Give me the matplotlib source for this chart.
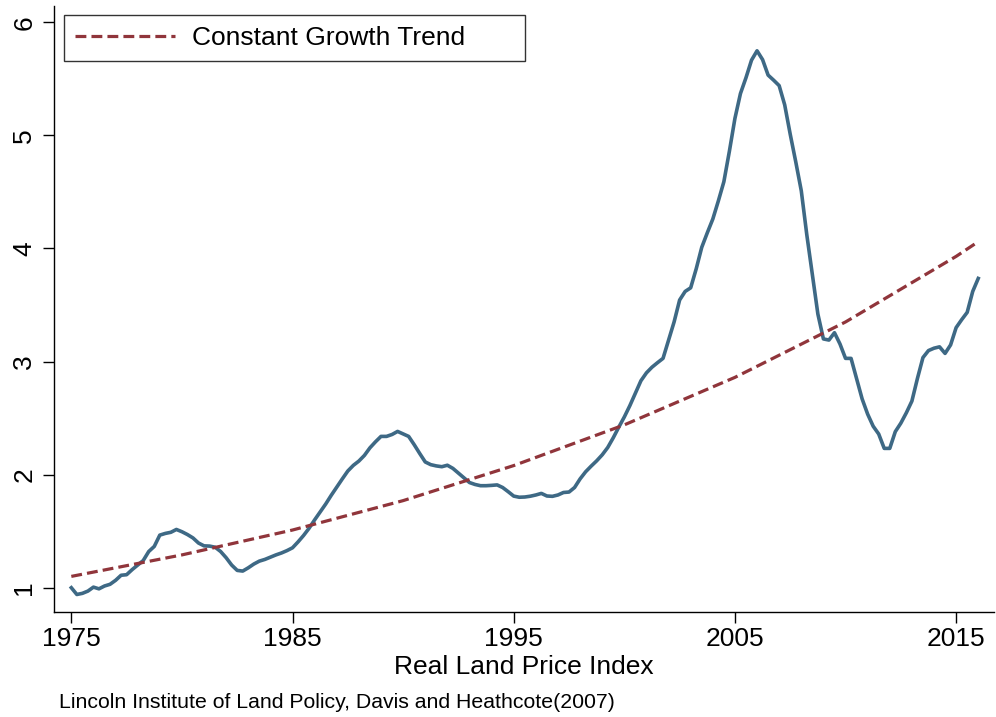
import numpy as np
import matplotlib
matplotlib.use("Agg")
import matplotlib.pyplot as plt

plt.rcParams['font.family'] = ['Liberation Sans', 'DejaVu Sans']

# Quarterly real land price index, 1975Q1 .. 2016Q1
start_year = 1975
land_index = [
    1.000, 0.940, 0.950, 0.970,   # 1975
    1.005, 0.990, 1.015, 1.030,   # 1976
    1.065, 1.110, 1.115, 1.160,   # 1977
    1.200, 1.240, 1.320, 1.365,   # 1978
    1.465, 1.480, 1.490, 1.515,   # 1979
    1.495, 1.470, 1.440, 1.395,   # 1980
    1.370, 1.368, 1.358, 1.320,   # 1981
    1.265, 1.200, 1.153, 1.147,   # 1982
    1.176, 1.209, 1.235, 1.250,   # 1983
    1.270, 1.290, 1.307, 1.328,   # 1984
    1.353, 1.405, 1.462, 1.526,   # 1985
    1.600, 1.670, 1.740, 1.817,   # 1986
    1.890, 1.962, 2.032, 2.082,   # 1987
    2.120, 2.170, 2.237, 2.290,   # 1988
    2.338, 2.338, 2.355, 2.382,   # 1989
    2.360, 2.338, 2.265, 2.187,   # 1990
    2.112, 2.088, 2.077, 2.070,   # 1991
    2.083, 2.055, 2.013, 1.970,   # 1992
    1.930, 1.913, 1.902, 1.902,   # 1993
    1.905, 1.909, 1.886, 1.849,   # 1994
    1.810, 1.800, 1.802, 1.809,   # 1995
    1.820, 1.834, 1.811, 1.808,   # 1996
    1.820, 1.842, 1.846, 1.886,   # 1997
    1.962, 2.025, 2.075, 2.122,   # 1998
    2.175, 2.240, 2.326, 2.420,   # 1999
    2.510, 2.610, 2.720, 2.830,   # 2000
    2.900, 2.950, 2.990, 3.028,   # 2001
    3.190, 3.350, 3.544, 3.620,   # 2002
    3.652, 3.820, 4.010, 4.138,   # 2003
    4.260, 4.420, 4.590, 4.860,   # 2004
    5.150, 5.370, 5.510, 5.665,   # 2005
    5.748, 5.670, 5.533, 5.488,   # 2006
    5.440, 5.270, 5.010, 4.766,   # 2007
    4.510, 4.120, 3.770, 3.420,   # 2008
    3.200, 3.190, 3.255, 3.155,   # 2009
    3.028, 3.028, 2.850, 2.670,   # 2010
    2.535, 2.428, 2.359, 2.232,   # 2011
    2.232, 2.380, 2.455, 2.547,   # 2012
    2.650, 2.850, 3.035, 3.097,   # 2013
    3.118, 3.130, 3.072, 3.147,   # 2014
    3.300, 3.370, 3.435, 3.620,   # 2015
    3.735,                        # 2016Q1
]

# Constant growth trend, read at 5-year marks
trend_years = [1975, 1980, 1985, 1990, 1995, 2000, 2005, 2010, 2015, 2016]
trend_values = [1.10, 1.29, 1.51, 1.77, 2.08, 2.44, 2.86, 3.35, 3.93, 4.06]

xticks = [1975, 1985, 1995, 2005, 2015]
yticks = [1, 2, 3, 4, 5, 6]

quarter_years = start_year + np.arange(len(land_index)) / 4.0

BLUE = '#3e6985'
RED = '#90353b'

fig = plt.figure(figsize=(9.96, 7.17), dpi=100)
ax = fig.add_axes([0.0545, 0.1469, 0.943, 0.8447])

ax.plot(quarter_years, land_index, color=BLUE, lw=2.6, solid_joinstyle='round', zorder=3)
ax.plot(trend_years, trend_values, color=RED, lw=2.3, dashes=(3.4, 1.6),
        label='Constant Growth Trend', zorder=4)

ax.set_xlim(1974.23, 2016.69)
ax.set_ylim(0.788, 6.144)
ax.set_xticks(xticks)
ax.set_yticks(yticks)
ax.set_xticklabels([str(t) for t in xticks], fontsize=19)
ax.set_yticklabels([str(t) for t in yticks], fontsize=19, rotation=90, va='center')
ax.tick_params(axis='x', direction='out', length=8, width=1, pad=3)
ax.tick_params(axis='y', direction='out', length=8, width=1, pad=5)

for s in ['top', 'right']:
    ax.spines[s].set_visible(False)
for s in ['left', 'bottom']:
    ax.spines[s].set_linewidth(1.0)

ax.set_xlabel('Real Land Price Index', fontsize=19, labelpad=3)

leg = ax.legend(loc='upper left',
                bbox_to_anchor=(64 / 996, 1 - 63 / 717, (525 - 64) / 996, 48 / 717),
                bbox_transform=fig.transFigure, mode='expand', fontsize=19, frameon=True,
                fancybox=False, edgecolor='black', handlelength=3.8,
                handletextpad=0.64, borderpad=0.42, borderaxespad=0)
leg.get_frame().set_linewidth(1.0)

fig.text(59 / 996, 1 - 703 / 717, 'Lincoln Institute of Land Policy, Davis and Heathcote(2007)',
         fontsize=15.3, ha='left', va='center')

fig.savefig('out.png', dpi=100)
